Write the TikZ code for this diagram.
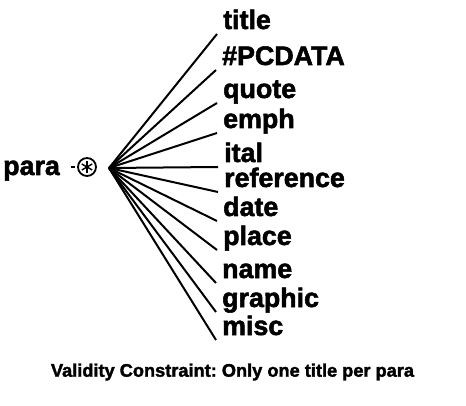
\documentclass[tikz,border=0pt]{standalone}
\usepackage{fontspec}
\setmainfont{Liberation Sans}
\newfontfamily\heavy{Liberation Sans Bold}[FakeBold=2]
\usetikzlibrary{positioning}

\tikzset{
  elem/.style={anchor=base west, inner sep=0pt, font=\fontsize{26.8}{28}\heavy\selectfont},
  link/.style={line width=2pt},
  star/.style={circle, draw, line width=1.8pt, minimum size=18pt, inner sep=0pt},
  note/.style={inner sep=0pt, font=\fontsize{18.2}{20}\heavy\selectfont\frenchspacing}
}

\begin{document}
\begin{tikzpicture}[x=1pt, y=-1pt]
        \useasboundingbox (0,0) rectangle (466,406);
        \node[elem] (para) at (3,175) {para};
        \node[star] (rep) at (87,167) {};
        \foreach \a in {90,30,150}
          \draw[line width=1.4pt] ([shift={(\a:6)}]rep.center) -- ([shift={(\a+180:6)}]rep.center);
        \draw[link] ([xshift=-2pt]rep.west) -- ([xshift=-6pt]rep.west);
        \coordinate (hub) at (109,168);

        % children
        \node[elem] (title) at (223,29) {title};
        \node[elem] (pcdata) at (222,65) {\#PCDATA};
        \node[elem] (quote) at (223,98) {quote};
        \node[elem] (emph) at (223,128) {emph};
        \node[elem] (ital) at (224,162) {ital};
        \node[elem] (reference) at (224,187) {reference};
        \node[elem] (date) at (223,216) {date};
        \node[elem] (place) at (223,245) {place};
        \node[elem] (name) at (222,278) {name};
        \node[elem] (graphic) at (222,307) {graphic};
        \node[elem] (misc) at (222,335) {misc};

        \foreach \n in {title,pcdata,quote,emph,ital,reference,date,place,name,graphic,misc}
          \draw[link] (hub) -- ([shift={(-6pt,-5pt)}]\n.base west);

        \node[note] (rule) at (232.5,372) {Validity Constraint: Only one title per para};
      \end{tikzpicture}
\end{document}
